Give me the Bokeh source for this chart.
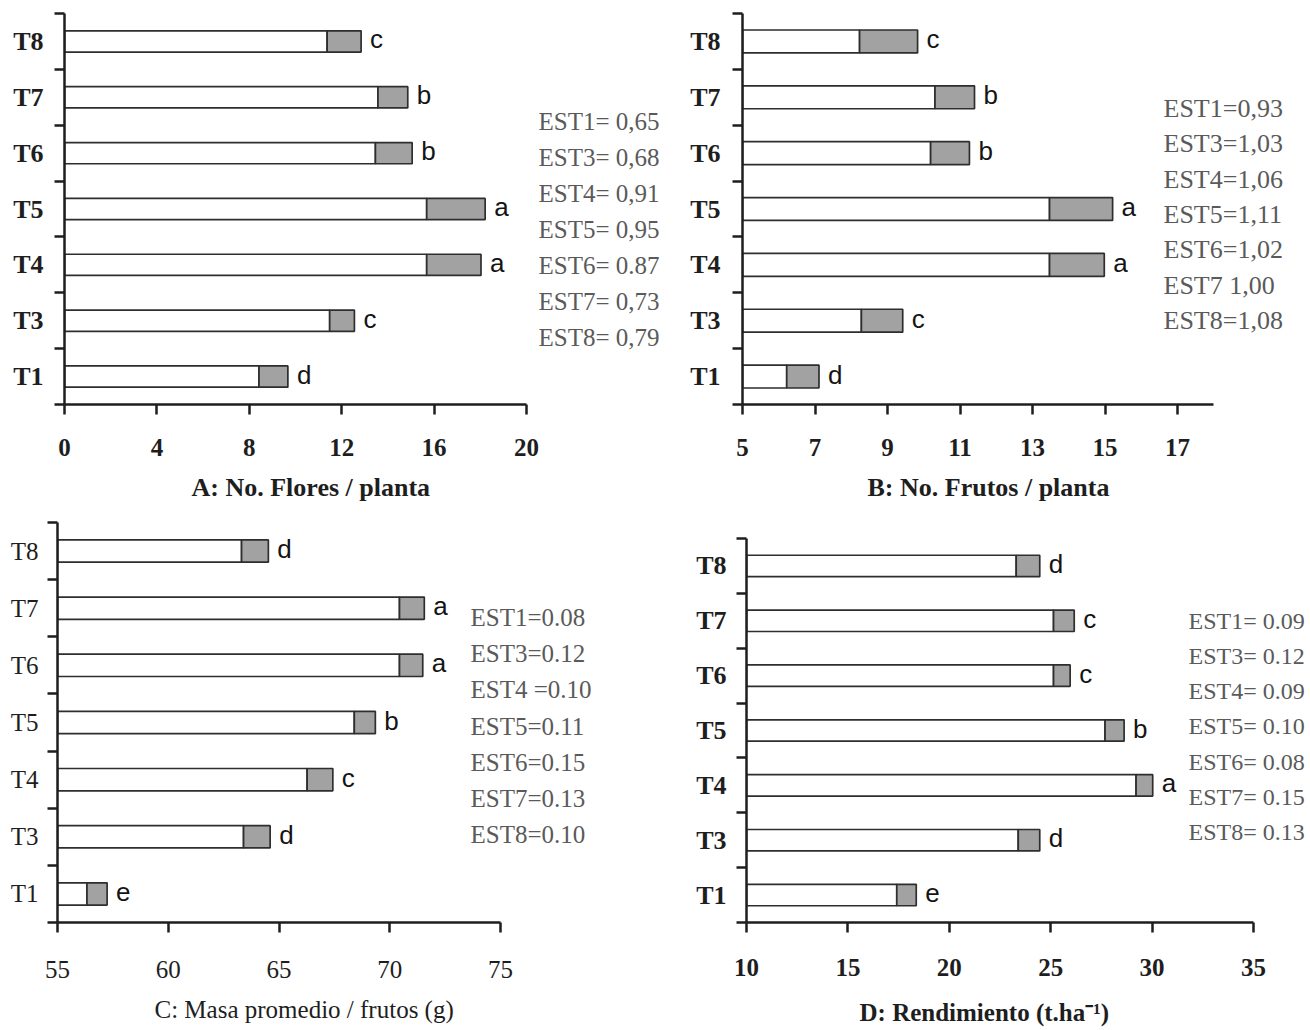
from bokeh.plotting import figure
from bokeh.models import FixedTicker, Range1d, ColumnDataSource, Title
from bokeh.layouts import column, row
from bokeh.core.properties import value
from bokeh.embed import file_html
from bokeh.resources import INLINE

# ---------------- data ----------------
tratamientos = ["T1", "T3", "T4", "T5", "T6", "T7", "T8"]

# A: No. Flores / planta
flores_base = [8.42, 11.48, 15.68, 15.68, 13.46, 13.57, 11.37]
flores_total = [9.67, 12.55, 18.03, 18.21, 15.05, 14.86, 12.84]
flores_letras = ["d", "c", "a", "a", "b", "b", "c"]
flores_est = ["EST1= 0,65", "EST3= 0,68", "EST4= 0,91", "EST5= 0,95",
              "EST6= 0.87", "EST7= 0,73", "EST8= 0,79"]
flores_ticks = [0, 4, 8, 12, 16, 20]

# B: No. Frutos / planta
frutos_base = [6.22, 8.28, 13.47, 13.47, 10.19, 10.31, 8.23]
frutos_total = [7.11, 9.42, 14.98, 15.21, 11.26, 11.40, 9.83]
frutos_letras = ["d", "c", "a", "a", "b", "b", "c"]
frutos_est = ["EST1=0,93", "EST3=1,03", "EST4=1,06", "EST5=1,11",
              "EST6=1,02", "EST7 1,00", "EST8=1,08"]
frutos_ticks = [5, 7, 9, 11, 13, 15, 17]

# C: Masa promedio / frutos (g)
masa_base = [56.33, 63.40, 66.27, 68.40, 70.44, 70.44, 63.31]
masa_total = [57.24, 64.60, 67.43, 69.35, 71.49, 71.56, 64.52]
masa_letras = ["e", "d", "c", "b", "a", "a", "d"]
masa_est = ["EST1=0.08", "EST3=0.12", "EST4 =0.10", "EST5=0.11",
            "EST6=0.15", "EST7=0.13", "EST8=0.10"]
masa_ticks = [55, 60, 65, 70, 75]

# D: Rendimiento (t.ha-1)
rend_base = [17.41, 23.40, 29.21, 27.68, 25.14, 25.14, 23.30]
rend_total = [18.37, 24.46, 30.03, 28.62, 25.96, 26.16, 24.46]
rend_letras = ["e", "d", "a", "b", "c", "c", "d"]
rend_est = ["EST1= 0.09", "EST3= 0.12", "EST4= 0.09", "EST5= 0.10",
            "EST6= 0.08", "EST7= 0.15", "EST8= 0.13"]
rend_ticks = [10, 15, 20, 25, 30, 35]

INK = "#1e1e1e"
SERIF = "Liberation Serif"


def panel(base, total, letras, est, ticks, axis_end, title, bold, geo):
    n = len(tratamientos)
    a0 = ticks[0]
    fx, fy, w, h = geo["fig"]
    fl, fr = geo["frame_left"], fx + w
    ft, fb = geo["frame_top"], geo["frame_bottom"]
    at = geo["axis_top"]
    scale = (geo["last_tick_px"] - fl) / (ticks[-1] - ticks[0])
    x_end = a0 + (fr - fl) / scale
    yscale = (fb - at) / n
    y_end = n + 0.5 + (at - ft) / yscale

    p = figure(width=w, height=h, output_backend="svg", toolbar_location=None,
               x_range=Range1d(a0, x_end), y_range=Range1d(0.5, y_end),
               min_border_left=int(round(fl - fx)), min_border_right=0,
               min_border_top=int(round(ft - fy)),
               min_border_bottom=int(round(fy + h - fb)))
    p.outline_line_color = None
    p.xgrid.visible = False
    p.ygrid.visible = False

    ys = list(range(1, n + 1))
    src = ColumnDataSource(dict(y=ys, base=base, total=total, letra=letras,
                                left=[a0] * n))
    bh = geo["bar_h"]
    p.hbar(y="y", left="left", right="base", height=bh, source=src,
           fill_color="white", line_color="#2e2e2e", line_width=1.7)
    p.hbar(y="y", left="base", right="total", height=bh, source=src,
           fill_color="#a2a2a2", line_color="#2e2e2e", line_width=1.7)
    p.text(x="total", y="y", text="letra", source=src, x_offset=9, y_offset=-2,
           text_font=value("Liberation Sans"), text_font_size="26px",
           text_color="#141414", text_align="left", text_baseline="middle")

    ex = a0 + (geo["est_x"] - fl) / scale
    ey = [0.5 + (fb - (geo["est_y0"] + i * geo["est_dy"])) / yscale
          for i in range(len(est))]
    p.text(x=[ex] * len(est), y=ey, text=est,
           text_font=value(SERIF), text_font_size=geo["est_size"],
           text_color="#5a5a5a", text_align="left", text_baseline="middle")

    style = "bold" if bold else "normal"
    xa = p.xaxis[0]
    xa.ticker = FixedTicker(ticks=ticks)
    xa.bounds = (a0, axis_end)
    xa.axis_line_color = INK
    xa.axis_line_width = 2.5
    xa.major_tick_line_color = INK
    xa.major_tick_line_width = 2.5
    xa.major_tick_in = 0
    xa.major_tick_out = 10
    xa.minor_tick_line_color = None
    xa.major_label_text_font = SERIF
    xa.major_label_text_font_size = "25px"
    xa.major_label_text_font_style = style
    xa.major_label_text_color = INK
    xa.major_label_standoff = geo["tick_standoff"]

    # axis title under the tick labels, left edge placed as in the original
    t = Title(text=title, align="left", offset=geo["title_dx"],
              vertical_align="top", standoff=0,
              text_font=SERIF, text_font_size=geo["title_size"],
              text_font_style=style, text_color=INK)
    try:
        t.padding = dict(left=0, right=0, top=geo["title_gap"], bottom=0)
    except Exception:
        t.standoff = 2 * geo["title_gap"]
    p.add_layout(t, "below")

    ya = p.yaxis[0]
    ya.ticker = FixedTicker(ticks=ys, minor_ticks=[y - 0.5 for y in ys] + [n + 0.5])
    ya.bounds = (0.5, n + 0.5)
    ya.major_label_overrides = {y: s for y, s in zip(ys, tratamientos)}
    ya.axis_line_color = INK
    ya.axis_line_width = 2.5
    ya.major_tick_line_color = None
    ya.major_tick_in = 0
    ya.major_tick_out = 0
    ya.minor_tick_line_color = INK
    ya.minor_tick_line_width = 2.5
    ya.minor_tick_in = 0
    ya.minor_tick_out = 10
    ya.major_label_text_font = SERIF
    ya.major_label_text_font_size = geo["ylab_size"]
    ya.major_label_text_font_style = style
    ya.major_label_text_color = INK
    ya.major_label_standoff = geo["ylab_standoff"]
    return p


geoA = dict(fig=(0, 0, 674, 508), frame_left=64, last_tick_px=526,
            frame_top=13, frame_bottom=404, axis_top=13, bar_h=0.38,
            est_x=538, est_y0=121, est_dy=36, est_size="25px",
            tick_standoff=24, title_gap=14, title_dx=127, title_size="26px",
            ylab_size="26px", ylab_standoff=11)
geoB = dict(fig=(674, 0, 636, 508), frame_left=742, last_tick_px=1177,
            frame_top=13, frame_bottom=404, axis_top=13, bar_h=0.41,
            est_x=1163, est_y0=108, est_dy=35.3, est_size="26px",
            tick_standoff=24, title_gap=14, title_dx=125, title_size="26px",
            ylab_size="26px", ylab_standoff=12)
geoC = dict(fig=(0, 508, 660, 522), frame_left=57, last_tick_px=500,
            frame_top=522, frame_bottom=922, axis_top=522, bar_h=0.39,
            est_x=470, est_y0=617, est_dy=36.2, est_size="25px",
            tick_standoff=28, title_gap=15, title_dx=97, title_size="25px",
            ylab_size="25px", ylab_standoff=9)
geoD = dict(fig=(660, 508, 650, 522), frame_left=746, last_tick_px=1253,
            frame_top=522, frame_bottom=922, axis_top=538, bar_h=0.39,
            est_x=1188, est_y0=620, est_dy=35.3, est_size="24px",
            tick_standoff=26, title_gap=20, title_dx=113, title_size="25px",
            ylab_size="26px", ylab_standoff=10)

pA = panel(flores_base, flores_total, flores_letras, flores_est, flores_ticks, 20,
           "A: No. Flores / planta", True, geoA)
pB = panel(frutos_base, frutos_total, frutos_letras, frutos_est, frutos_ticks, 18,
           "B: No. Frutos / planta", True, geoB)
pC = panel(masa_base, masa_total, masa_letras, masa_est, masa_ticks, 75,
           "C: Masa promedio / frutos (g)", False, geoC)
pD = panel(rend_base, rend_total, rend_letras, rend_est, rend_ticks, 35,
           "D: Rendimiento (t.ha\u207b\u00b9)", True, geoD)

layout = column(row(pA, pB), row(pC, pD))
open("out.html", "w").write(file_html(layout, INLINE))
